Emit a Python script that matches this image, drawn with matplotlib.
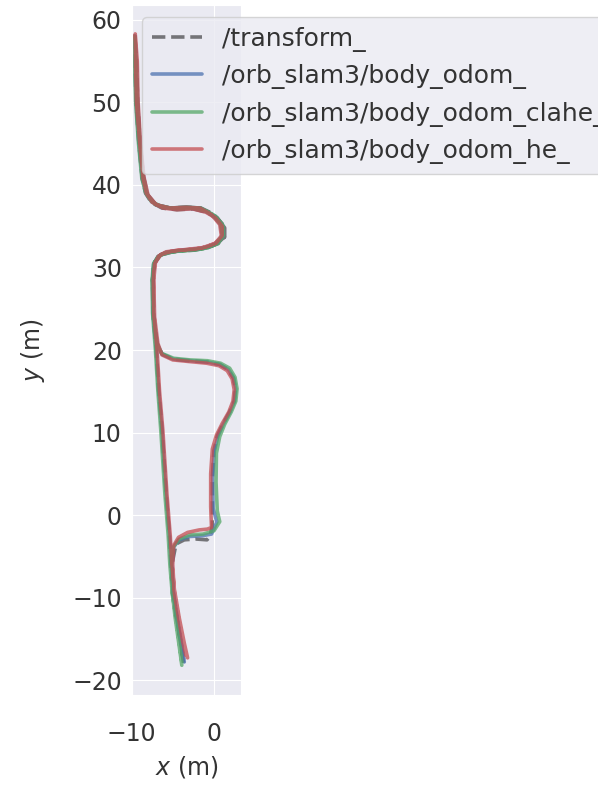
import numpy as np
import matplotlib
matplotlib.use("Agg")
import matplotlib.pyplot as plt
import seaborn as sns

#%% trajectory data (metres)
labels = ["/transform_", "/orb_slam3/body_odom_", "/orb_slam3/body_odom_clahe_", "/orb_slam3/body_odom_he_"]

gt_x = [-3.7, -4.0, -4.5, -5.0, -5.2, -5.4, -5.8, -6.3, -6.7, -7.0, -7.4, -7.45, -7.3, -6.8, -5.9, -4.3, -2.4, -0.8, 0.5, 1.3,
        1.3, 0.4, -0.9, -2.5, -4.5, -6.3, -7.6, -8.3, -8.7, -9.1, -9.45, -9.55, -9.6, -9.4, -9.25, -8.95, -8.55, -8.05, -7.05, -5.3,
        -3.3, -1.6, -0.1, 1.0, 1.25, 0.3, -1.3, -3.1, -5.0, -6.5, -7.2, -7.4, -7.3, -6.9, -6.3, -4.95, -2.95, -0.85, 0.7, 1.7,
        2.35, 2.6, 2.45, 1.9, 1.1, 0.4, 0.0, -0.2, -0.2, -0.2, -0.5, -0.85, -2.2, -3.6, -4.6, -5.1, -5.0, -4.55, -4.05, -3.75]
gt_y = [-17.9, -15.8, -12.5, -9.0, -6.0, -2.5, 2.5, 10.3, 15.0, 20.0, 24.5, 28.5, 30.4, 31.3, 31.8, 32.0, 32.1, 32.4, 32.9, 33.7,
        34.8, 36.0, 36.7, 37.1, 37.0, 37.2, 37.9, 39.0, 40.8, 45.0, 50.0, 54.0, 58.2, 55.0, 50.0, 45.0, 41.0, 38.8, 37.6, 37.2,
        37.3, 37.2, 36.5, 35.3, 33.7, 32.8, 32.3, 32.1, 31.9, 31.5, 30.6, 28.5, 24.0, 20.8, 19.5, 18.9, 18.7, 18.55, 18.25, 17.65,
        16.6, 15.25, 13.8, 12.5, 11.05, 9.6, 7.8, 4.5, 0.8, -1.3, -2.6, -3.0, -2.9, -3.0, -3.5, -6.0, -9.5, -12.5, -15.4, -17.5]

odom_x = [-3.6, -3.9, -4.45, -4.95, -5.2, -5.4, -5.8, -6.3, -6.7, -7.0, -7.4, -7.45, -7.3, -6.75, -5.8, -4.2, -2.3, -0.8, 0.4, 1.1,
          1.05, 0.25, -0.95, -2.55, -4.45, -6.2, -7.55, -8.25, -8.7, -9.1, -9.45, -9.55, -9.6, -9.4, -9.25, -8.95, -8.55, -8.05, -7.05, -5.3,
          -3.35, -1.65, -0.2, 0.8, 1.0, 0.15, -1.35, -3.15, -5.0, -6.45, -7.2, -7.4, -7.3, -6.9, -6.3, -4.95, -2.95, -0.85, 0.7, 1.75,
          2.4, 2.65, 2.5, 1.95, 1.15, 0.5, 0.05, -0.15, -0.1, 0.35, -0.3, -1.4, -3.0, -4.25, -4.9, -5.1, -4.95, -4.5, -4.0, -3.7]
odom_y = [-17.8, -15.8, -12.5, -9.0, -6.0, -2.5, 2.5, 10.3, 15.0, 20.0, 24.5, 28.5, 30.4, 31.35, 31.85, 32.05, 32.15, 32.45, 32.95, 33.9,
          35.05, 36.05, 36.75, 37.15, 37.05, 37.25, 37.95, 39.05, 40.8, 45.0, 50.0, 54.0, 58.1, 55.0, 50.0, 45.0, 41.0, 38.8, 37.6, 37.2,
          37.3, 37.2, 36.4, 35.2, 33.8, 32.85, 32.35, 32.15, 31.95, 31.55, 30.6, 28.5, 24.0, 20.8, 19.5, 18.9, 18.7, 18.55, 18.25, 17.65,
          16.6, 15.25, 13.8, 12.5, 11.05, 9.6, 7.8, 4.5, 0.8, -0.85, -2.3, -2.5, -2.6, -3.0, -3.9, -6.0, -9.5, -12.5, -15.4, -17.4]

clahe_x = [-3.9, -4.2, -4.7, -5.1, -5.35, -5.55, -5.95, -6.45, -6.8, -7.1, -7.45, -7.5, -7.35, -6.8, -5.8, -4.2, -2.3, -0.7, 0.5, 1.15,
           1.1, 0.3, -0.9, -2.5, -4.4, -6.2, -7.6, -8.3, -8.75, -9.15, -9.5, -9.6, -9.65, -9.45, -9.3, -9.0, -8.6, -8.1, -7.1, -5.3,
           -3.3, -1.6, -0.1, 0.85, 1.05, 0.2, -1.3, -3.1, -5.0, -6.5, -7.25, -7.45, -7.35, -6.95, -6.35, -4.9, -2.9, -0.8, 0.8, 1.9,
           2.55, 2.8, 2.65, 2.1, 1.3, 0.7, 0.3, 0.25, 0.4, 0.7, 0.0, -1.3, -2.9, -4.2, -4.95, -5.2, -5.05, -4.6, -4.2, -3.9]
clahe_y = [-18.2, -16.0, -12.5, -9.0, -6.0, -2.5, 2.5, 10.3, 15.0, 20.0, 24.5, 28.5, 30.4, 31.3, 31.8, 32.0, 32.1, 32.4, 32.9, 33.9,
           35.1, 36.1, 36.8, 37.2, 37.1, 37.3, 38.0, 39.1, 40.8, 45.0, 50.0, 54.0, 58.0, 55.0, 50.0, 45.0, 41.0, 38.8, 37.6, 37.2,
           37.3, 37.2, 36.4, 35.2, 33.8, 32.8, 32.3, 32.1, 31.9, 31.5, 30.6, 28.5, 24.0, 20.8, 19.6, 19.0, 18.8, 18.7, 18.4, 17.8,
           16.7, 15.3, 13.8, 12.5, 11.0, 9.5, 7.5, 4.0, 0.5, -0.8, -1.9, -2.3, -2.4, -2.9, -3.9, -6.0, -9.5, -12.5, -15.5, -17.8]

he_x = [-3.2, -3.6, -4.2, -4.8, -5.1, -5.3, -5.7, -6.2, -6.6, -6.9, -7.3, -7.35, -7.2, -6.7, -5.8, -4.2, -2.4, -0.9, 0.3, 1.0,
        1.0, 0.2, -1.0, -2.6, -4.5, -6.2, -7.5, -8.2, -8.6, -9.0, -9.4, -9.5, -9.55, -9.3, -9.2, -8.9, -8.5, -8.0, -7.0, -5.3,
        -3.4, -1.7, -0.3, 0.7, 0.9, 0.1, -1.4, -3.2, -5.0, -6.4, -7.1, -7.3, -7.2, -6.8, -6.3, -5.0, -3.0, -0.9, 0.6, 1.6,
        2.2, 2.45, 2.3, 1.8, 1.0, 0.3, -0.2, -0.4, -0.4, -0.3, -0.8, -1.8, -3.2, -4.3, -4.9, -5.0, -4.8, -4.3, -3.8, -3.4]
he_y = [-17.3, -15.5, -12.5, -9.0, -6.0, -2.5, 2.5, 10.3, 15.0, 20.0, 24.5, 28.5, 30.4, 31.4, 31.9, 32.1, 32.2, 32.5, 33.0, 33.9,
        35.0, 36.0, 36.7, 37.1, 37.0, 37.2, 37.9, 39.0, 40.8, 45.0, 50.0, 54.0, 58.3, 55.0, 50.0, 45.0, 41.0, 38.8, 37.6, 37.2,
        37.3, 37.2, 36.4, 35.2, 33.8, 32.9, 32.4, 32.2, 32.0, 31.6, 30.6, 28.5, 24.0, 20.8, 19.4, 18.8, 18.6, 18.4, 18.1, 17.5,
        16.5, 15.2, 13.8, 12.5, 11.1, 9.7, 8.0, 5.0, 1.0, -1.5, -1.7, -1.8, -2.1, -2.7, -3.7, -6.0, -9.5, -12.5, -15.3, -17.0]

x_ticks = [-10, 0]
y_ticks = [-20, -10, 0, 10, 20, 30, 40, 50, 60]

#%% plot
sns.set_style("darkgrid")
plt.rcParams['font.family'] = ['DejaVu Sans']
fs = 17

fig = plt.figure(figsize=(5.98, 7.87), dpi=100)
ax = fig.add_axes([131.5/598, 92/787, 109.7/598, 690/787])

lw = 2.6
ax.plot(gt_x, gt_y, '--', color='black', alpha=0.5, lw=lw, label=labels[0])
ax.plot(odom_x, odom_y, '-', color='#4c72b0', alpha=0.75, lw=lw, label=labels[1])
ax.plot(clahe_x, clahe_y, '-', color='#55a868', alpha=0.75, lw=lw, label=labels[2])
ax.plot(he_x, he_y, '-', color='#c44e52', alpha=0.75, lw=lw, label=labels[3])

ax.set_xlim(-10, 3.3)
ax.set_ylim(-21.8, 61.8)
ax.set_xticks(x_ticks)
ax.set_yticks(y_ticks)
ax.tick_params(labelsize=fs, colors='.2')
ax.tick_params(axis='x', pad=16)
ax.set_xlabel('$x$ (m)', fontsize=fs, labelpad=6, color='.2')
ax.set_ylabel('$y$ (m)', fontsize=fs, labelpad=18, color='.2')

leg = ax.legend(loc='upper left', bbox_to_anchor=(0.096, 0.983), borderaxespad=0, fontsize=18,
                handlelength=2.0)
for t in leg.get_texts():
    t.set_color('.2')

fig.savefig('out.png', dpi=100)
